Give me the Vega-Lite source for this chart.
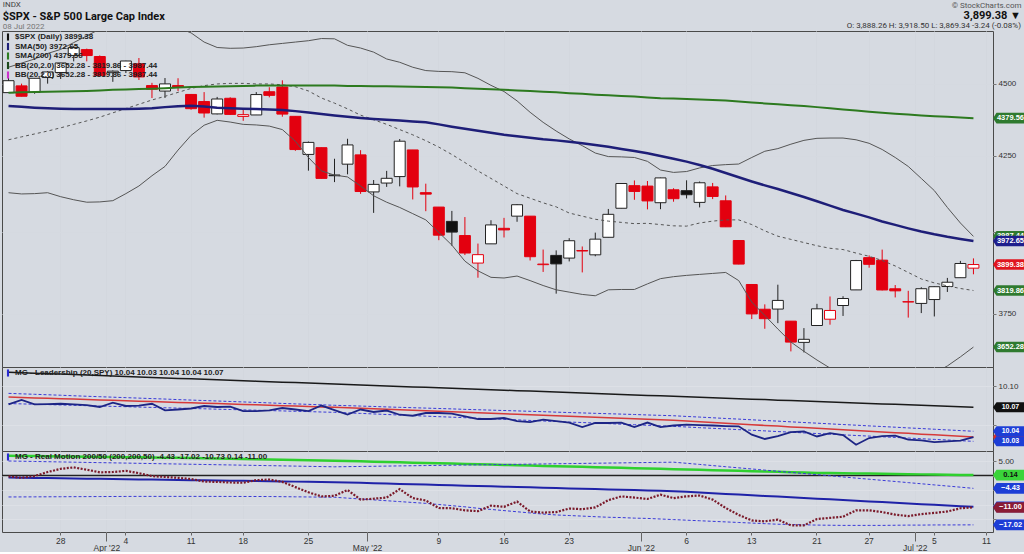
{
"$schema": "https://vega.github.io/schema/vega-lite/v6.json",
"background": "#d6dae1",
"padding": 0,
"datasets": {
"px": [
{"d":"2022-03-22","o":4469.1,"h":4522,"l":4469.1,"c":4511.61,"s50":4422,"s200":4469,"bu":4560,"bm":4305,"bl":4128,"k":10.1177,"lu":10.0906,"lm":10.0859,"ll":10.0775,"ld":10.0765,"g":6.8,"b":-0.7,"r":-0.3,"ru":5,"rl":-7.4},
{"d":"2022-03-23","o":4493.1,"h":4501.07,"l":4455.81,"c":4456.24,"s50":4419,"s200":4470,"bu":4575,"bm":4315,"bl":4124,"k":10.1171,"lu":10.09,"lm":10.0854,"ll":10.0771,"ld":10.0821,"g":6.75,"b":-0.76,"r":-0.8,"ru":4.92,"rl":-7.38},
{"d":"2022-03-24","o":4469.98,"h":4520.58,"l":4465.17,"c":4520.16,"s50":4416,"s200":4471,"bu":4590,"bm":4325,"bl":4125,"k":10.1165,"lu":10.0894,"lm":10.0848,"ll":10.0766,"ld":10.0765,"g":6.69,"b":-0.83,"r":-0.2,"ru":4.84,"rl":-7.36},
{"d":"2022-03-25","o":4522.91,"h":4546.03,"l":4501.07,"c":4543.06,"s50":4414,"s200":4472,"bu":4610,"bm":4335,"bl":4128,"k":10.1159,"lu":10.0888,"lm":10.0843,"ll":10.0762,"ld":10.0769,"g":6.64,"b":-0.89,"r":1.2,"ru":4.76,"rl":-7.34},
{"d":"2022-03-28","o":4541.09,"h":4575.65,"l":4517.69,"c":4575.52,"s50":4412,"s200":4473,"bu":4625,"bm":4346,"bl":4115,"k":10.1153,"lu":10.0882,"lm":10.0838,"ll":10.0757,"ld":10.0773,"g":6.58,"b":-0.96,"r":2.3,"ru":4.68,"rl":-7.32},
{"d":"2022-03-29","o":4602.86,"h":4637.3,"l":4581.32,"c":4631.6,"s50":4411,"s200":4474,"bu":4650,"bm":4358,"bl":4105,"k":10.1147,"lu":10.0875,"lm":10.0833,"ll":10.0753,"ld":10.0765,"g":6.53,"b":-1.02,"r":2.8,"ru":4.6,"rl":-7.3},
{"d":"2022-03-30","o":4624.2,"h":4627.77,"l":4581.32,"c":4602.45,"s50":4411,"s200":4475,"bu":4675,"bm":4370,"bl":4097,"k":10.1141,"lu":10.0869,"lm":10.0827,"ll":10.0748,"ld":10.0756,"g":6.48,"b":-1.08,"r":2.0,"ru":4.52,"rl":-7.28},
{"d":"2022-03-31","o":4599.02,"h":4603.07,"l":4530.41,"c":4530.41,"s50":4411,"s200":4477,"bu":4700,"bm":4383,"bl":4098,"k":10.1135,"lu":10.0863,"lm":10.0822,"ll":10.0744,"ld":10.0731,"g":6.42,"b":-1.15,"r":1.1,"ru":4.44,"rl":-7.26},
{"d":"2022-04-01","o":4540.32,"h":4548.7,"l":4507.57,"c":4545.86,"s50":4411,"s200":4479,"bu":4720,"bm":4398,"bl":4102,"k":10.1129,"lu":10.0857,"lm":10.0817,"ll":10.0739,"ld":10.0786,"g":6.37,"b":-1.21,"r":1.2,"ru":4.36,"rl":-7.24},
{"d":"2022-04-04","o":4547.97,"h":4583.5,"l":4539.21,"c":4582.64,"s50":4411,"s200":4480,"bu":4730,"bm":4413,"bl":4125,"k":10.1122,"lu":10.0851,"lm":10.0811,"ll":10.0735,"ld":10.0744,"g":6.31,"b":-1.28,"r":1.6,"ru":4.28,"rl":-7.22},
{"d":"2022-04-05","o":4572.45,"h":4593.45,"l":4514.17,"c":4525.12,"s50":4412,"s200":4482,"bu":4735,"bm":4428,"bl":4150,"k":10.1116,"lu":10.0845,"lm":10.0806,"ll":10.073,"ld":10.075,"g":6.26,"b":-1.34,"r":0.8,"ru":4.2,"rl":-7.2},
{"d":"2022-04-06","o":4494.17,"h":4503.94,"l":4450.04,"c":4481.15,"s50":4414,"s200":4483,"bu":4735,"bm":4443,"bl":4184,"k":10.111,"lu":10.0839,"lm":10.0801,"ll":10.0726,"ld":10.0773,"g":6.21,"b":-1.4,"r":-0.2,"ru":4.12,"rl":-7.2},
{"d":"2022-04-07","o":4474.65,"h":4521.16,"l":4450.3,"c":4500.21,"s50":4418,"s200":4485,"bu":4725,"bm":4456,"bl":4215,"k":10.1104,"lu":10.0833,"lm":10.0796,"ll":10.0721,"ld":10.0688,"g":6.15,"b":-1.47,"r":-0.5,"ru":4.04,"rl":-7.2},
{"d":"2022-04-08","o":4494.15,"h":4520.41,"l":4474.6,"c":4488.28,"s50":4421,"s200":4487,"bu":4705,"bm":4470,"bl":4270,"k":10.1098,"lu":10.0826,"lm":10.079,"ll":10.0717,"ld":10.0699,"g":6.1,"b":-1.53,"r":-0.8,"ru":3.96,"rl":-7.2},
{"d":"2022-04-11","o":4462.64,"h":4463.72,"l":4408.87,"c":4412.53,"s50":4423,"s200":4489,"bu":4686,"bm":4484,"bl":4320,"k":10.1092,"lu":10.082,"lm":10.0785,"ll":10.0712,"ld":10.0712,"g":6.02,"b":-1.6,"r":-1.2,"ru":3.88,"rl":-7.2},
{"d":"2022-04-12","o":4437.59,"h":4471,"l":4381.34,"c":4397.45,"s50":4420,"s200":4490,"bu":4652,"bm":4494,"bl":4355,"k":10.1086,"lu":10.0814,"lm":10.078,"ll":10.0708,"ld":10.0744,"g":5.93,"b":-1.66,"r":-2.1,"ru":3.8,"rl":-7.2},
{"d":"2022-04-13","o":4394.3,"h":4453.92,"l":4392.7,"c":4446.59,"s50":4416,"s200":4491,"bu":4632,"bm":4500,"bl":4372,"k":10.108,"lu":10.0808,"lm":10.0775,"ll":10.0703,"ld":10.0731,"g":5.85,"b":-1.72,"r":-2.2,"ru":3.72,"rl":-7.21},
{"d":"2022-04-14","o":4449.12,"h":4452.61,"l":4390.58,"c":4392.59,"s50":4414,"s200":4492,"bu":4629,"bm":4502,"bl":4366,"k":10.1074,"lu":10.0802,"lm":10.0769,"ll":10.0699,"ld":10.0737,"g":5.77,"b":-1.79,"r":-2.4,"ru":3.64,"rl":-7.22},
{"d":"2022-04-18","o":4385.63,"h":4410.31,"l":4370.3,"c":4391.69,"s50":4412,"s200":4493,"bu":4630,"bm":4502,"bl":4358,"k":10.1068,"lu":10.0796,"lm":10.0764,"ll":10.0694,"ld":10.0679,"g":5.68,"b":-1.85,"r":-2.5,"ru":3.56,"rl":-7.23},
{"d":"2022-04-19","o":4390.63,"h":4471.03,"l":4390.63,"c":4462.21,"s50":4411,"s200":4494,"bu":4635,"bm":4500,"bl":4356,"k":10.1062,"lu":10.079,"lm":10.0759,"ll":10.069,"ld":10.0679,"g":5.6,"b":-1.92,"r":-1.6,"ru":3.48,"rl":-7.24},
{"d":"2022-04-20","o":4472.26,"h":4488.29,"l":4452.39,"c":4459.45,"s50":4410,"s200":4494,"bu":4642,"bm":4500,"bl":4352,"k":10.1056,"lu":10.0784,"lm":10.0753,"ll":10.0685,"ld":10.0688,"g":5.52,"b":-1.98,"r":-1.4,"ru":3.4,"rl":-7.25},
{"d":"2022-04-21","o":4489.17,"h":4512.94,"l":4384.47,"c":4393.66,"s50":4408,"s200":4494,"bu":4647,"bm":4497,"bl":4340,"k":10.105,"lu":10.0777,"lm":10.0748,"ll":10.0681,"ld":10.0718,"g":5.43,"b":-2.04,"r":-2.2,"ru":3.32,"rl":-7.3},
{"d":"2022-04-22","o":4385.83,"h":4385.83,"l":4267.62,"c":4271.78,"s50":4404,"s200":4494,"bu":4652,"bm":4490,"bl":4300,"k":10.1044,"lu":10.0771,"lm":10.0743,"ll":10.0676,"ld":10.0699,"g":5.35,"b":-2.11,"r":-4.0,"ru":3.24,"rl":-7.35},
{"d":"2022-04-25","o":4255.34,"h":4299.02,"l":4200.82,"c":4296.12,"s50":4399,"s200":4494,"bu":4657,"bm":4475,"bl":4245,"k":10.1038,"lu":10.0765,"lm":10.0738,"ll":10.0672,"ld":10.0679,"g":5.27,"b":-2.17,"r":-5.8,"ru":3.16,"rl":-7.4},
{"d":"2022-04-26","o":4278.14,"h":4278.14,"l":4175.04,"c":4175.2,"s50":4394,"s200":4494,"bu":4665,"bm":4450,"bl":4200,"k":10.1032,"lu":10.0759,"lm":10.0732,"ll":10.0667,"ld":10.075,"g":5.18,"b":-2.24,"r":-7.2,"ru":3.08,"rl":-7.45},
{"d":"2022-04-27","o":4186.52,"h":4240.71,"l":4162.9,"c":4183.96,"s50":4389,"s200":4494,"bu":4664,"bm":4432,"bl":4186,"k":10.1025,"lu":10.0753,"lm":10.0727,"ll":10.0663,"ld":10.0692,"g":5.1,"b":-2.3,"r":-7.0,"ru":3.0,"rl":-7.5},
{"d":"2022-04-28","o":4222.58,"h":4308.45,"l":4188.63,"c":4287.5,"s50":4384,"s200":4493,"bu":4640,"bm":4412,"bl":4180,"k":10.1019,"lu":10.0748,"lm":10.0721,"ll":10.0656,"ld":10.0635,"g":4.99,"b":-2.42,"r":-5.0,"ru":3.06,"rl":-7.8},
{"d":"2022-04-29","o":4253.75,"h":4269.68,"l":4124.28,"c":4131.93,"s50":4380,"s200":4493,"bu":4630,"bm":4390,"bl":4150,"k":10.1013,"lu":10.0743,"lm":10.0714,"ll":10.0649,"ld":10.0699,"g":4.88,"b":-2.54,"r":-8.3,"ru":3.12,"rl":-8.1},
{"d":"2022-05-02","o":4130.61,"h":4169.81,"l":4062.51,"c":4155.38,"s50":4377,"s200":4492,"bu":4615,"bm":4374,"bl":4118,"k":10.1007,"lu":10.0738,"lm":10.0708,"ll":10.0642,"ld":10.0667,"g":4.77,"b":-2.66,"r":-8.0,"ru":3.18,"rl":-8.4},
{"d":"2022-05-03","o":4159.78,"h":4200.1,"l":4147.08,"c":4175.48,"s50":4374,"s200":4492,"bu":4590,"bm":4358,"bl":4097,"k":10.1001,"lu":10.0732,"lm":10.0701,"ll":10.0635,"ld":10.0686,"g":4.65,"b":-2.78,"r":-7.6,"ru":3.25,"rl":-8.7},
{"d":"2022-05-04","o":4181.18,"h":4307.66,"l":4148.91,"c":4300.17,"s50":4371,"s200":4491,"bu":4578,"bm":4340,"bl":4080,"k":10.0995,"lu":10.0727,"lm":10.0695,"ll":10.0628,"ld":10.0632,"g":4.54,"b":-2.9,"r":-4.7,"ru":3.31,"rl":-9.0},
{"d":"2022-05-05","o":4270.43,"h":4270.43,"l":4106.01,"c":4146.87,"s50":4368,"s200":4490,"bu":4560,"bm":4322,"bl":4060,"k":10.0989,"lu":10.0722,"lm":10.0689,"ll":10.0621,"ld":10.0619,"g":4.43,"b":-3.01,"r":-7.8,"ru":3.37,"rl":-9.3},
{"d":"2022-05-06","o":4128.17,"h":4157.69,"l":4067.91,"c":4123.34,"s50":4365,"s200":4489,"bu":4548,"bm":4302,"bl":4040,"k":10.0983,"lu":10.0717,"lm":10.0682,"ll":10.0614,"ld":10.0654,"g":4.32,"b":-3.13,"r":-8.6,"ru":3.43,"rl":-9.6},
{"d":"2022-05-09","o":4081.27,"h":4081.27,"l":3975.48,"c":3991.24,"s50":4358,"s200":4488,"bu":4545,"bm":4280,"bl":4000,"k":10.0977,"lu":10.0712,"lm":10.0676,"ll":10.0607,"ld":10.0654,"g":4.21,"b":-3.25,"r":-11.2,"ru":3.49,"rl":-10.0},
{"d":"2022-05-10","o":4035.18,"h":4068.82,"l":3958.17,"c":4001.05,"s50":4350,"s200":4487,"bu":4544,"bm":4255,"bl":3960,"k":10.0971,"lu":10.0707,"lm":10.0669,"ll":10.0601,"ld":10.0647,"g":4.1,"b":-3.37,"r":-11.3,"ru":3.55,"rl":-10.4},
{"d":"2022-05-11","o":3990.08,"h":4049.09,"l":3928.82,"c":3935.18,"s50":4343,"s200":4485,"bu":4540,"bm":4228,"bl":3910,"k":10.0965,"lu":10.0701,"lm":10.0663,"ll":10.0594,"ld":10.0612,"g":3.98,"b":-3.49,"r":-12.0,"ru":3.62,"rl":-10.8},
{"d":"2022-05-12","o":3903.95,"h":3964.8,"l":3858.87,"c":3930.08,"s50":4336,"s200":4483,"bu":4520,"bm":4200,"bl":3880,"k":10.0959,"lu":10.0696,"lm":10.0657,"ll":10.0587,"ld":10.0577,"g":3.87,"b":-3.61,"r":-12.3,"ru":3.68,"rl":-11.3},
{"d":"2022-05-13","o":3963.9,"h":4038.88,"l":3963.9,"c":4023.89,"s50":4329,"s200":4481,"bu":4495,"bm":4175,"bl":3860,"k":10.0953,"lu":10.0691,"lm":10.065,"ll":10.058,"ld":10.0577,"g":3.76,"b":-3.73,"r":-10.4,"ru":3.74,"rl":-11.7},
{"d":"2022-05-16","o":4013.02,"h":4046.46,"l":3983.99,"c":4008.01,"s50":4322,"s200":4479,"bu":4473,"bm":4150,"bl":3858,"k":10.0947,"lu":10.0686,"lm":10.0644,"ll":10.0573,"ld":10.059,"g":3.65,"b":-3.85,"r":-10.8,"ru":3.8,"rl":-12.1},
{"d":"2022-05-17","o":4052,"h":4090.72,"l":4033.93,"c":4088.85,"s50":4317,"s200":4477,"bu":4440,"bm":4125,"bl":3864,"k":10.0941,"lu":10.0681,"lm":10.0637,"ll":10.0566,"ld":10.0551,"g":3.54,"b":-3.97,"r":-9.0,"ru":3.86,"rl":-12.5},
{"d":"2022-05-18","o":4051.98,"h":4051.98,"l":3911.91,"c":3923.68,"s50":4312,"s200":4475,"bu":4400,"bm":4110,"bl":3850,"k":10.0935,"lu":10.0676,"lm":10.0631,"ll":10.0559,"ld":10.0538,"g":3.43,"b":-4.09,"r":-12.4,"ru":3.92,"rl":-12.9},
{"d":"2022-05-19","o":3899,"h":3945.96,"l":3876.58,"c":3900.79,"s50":4307,"s200":4472,"bu":4365,"bm":4095,"bl":3835,"k":10.0929,"lu":10.0671,"lm":10.0625,"ll":10.0552,"ld":10.057,"g":3.31,"b":-4.2,"r":-12.8,"ru":3.98,"rl":-13.3},
{"d":"2022-05-20","o":3927.76,"h":3943.42,"l":3810.32,"c":3901.36,"s50":4303,"s200":4470,"bu":4335,"bm":4082,"bl":3822,"k":10.0922,"lu":10.0665,"lm":10.0618,"ll":10.0545,"ld":10.0551,"g":3.2,"b":-4.32,"r":-12.6,"ru":4.05,"rl":-13.6},
{"d":"2022-05-23","o":3919.42,"h":3981.88,"l":3909.04,"c":3973.75,"s50":4298,"s200":4467,"bu":4308,"bm":4062,"bl":3815,"k":10.0916,"lu":10.066,"lm":10.0612,"ll":10.0538,"ld":10.0532,"g":3.09,"b":-4.44,"r":-11.4,"ru":4.11,"rl":-13.8},
{"d":"2022-05-24","o":3942.94,"h":3955.68,"l":3875.13,"c":3941.48,"s50":4293,"s200":4465,"bu":4285,"bm":4052,"bl":3808,"k":10.091,"lu":10.0655,"lm":10.0605,"ll":10.0532,"ld":10.0474,"g":2.98,"b":-4.56,"r":-11.6,"ru":4.17,"rl":-14.0},
{"d":"2022-05-25","o":3929.59,"h":3999.33,"l":3925.03,"c":3978.73,"s50":4287,"s200":4462,"bu":4260,"bm":4042,"bl":3804,"k":10.0904,"lu":10.065,"lm":10.0599,"ll":10.0525,"ld":10.0526,"g":2.87,"b":-4.68,"r":-11.0,"ru":4.23,"rl":-14.2},
{"d":"2022-05-26","o":3984.6,"h":4075.14,"l":3984.6,"c":4057.84,"s50":4281,"s200":4460,"bu":4248,"bm":4036,"bl":3822,"k":10.0898,"lu":10.0645,"lm":10.0592,"ll":10.0518,"ld":10.0526,"g":2.76,"b":-4.8,"r":-8.5,"ru":4.29,"rl":-14.4},
{"d":"2022-05-27","o":4077.43,"h":4158.49,"l":4077.43,"c":4158.24,"s50":4274,"s200":4457,"bu":4247,"bm":4032,"bl":3823,"k":10.0892,"lu":10.064,"lm":10.0586,"ll":10.0511,"ld":10.0532,"g":2.65,"b":-4.92,"r":-7.2,"ru":4.35,"rl":-14.5},
{"d":"2022-05-31","o":4151.09,"h":4168.34,"l":4104.88,"c":4132.15,"s50":4267,"s200":4455,"bu":4245,"bm":4028,"bl":3823,"k":10.0886,"lu":10.0635,"lm":10.058,"ll":10.0504,"ld":10.0474,"g":2.53,"b":-5.04,"r":-7.6,"ru":4.42,"rl":-14.7},
{"d":"2022-06-01","o":4149.78,"h":4166.54,"l":4073.85,"c":4101.23,"s50":4259,"s200":4452,"bu":4232,"bm":4029,"bl":3840,"k":10.088,"lu":10.0629,"lm":10.0573,"ll":10.0497,"ld":10.0532,"g":2.42,"b":-5.16,"r":-8.1,"ru":4.48,"rl":-14.8},
{"d":"2022-06-02","o":4095.41,"h":4177.51,"l":4074.37,"c":4176.82,"s50":4250,"s200":4449,"bu":4203,"bm":4025,"bl":3856,"k":10.0874,"lu":10.0624,"lm":10.0567,"ll":10.049,"ld":10.0474,"g":2.31,"b":-5.28,"r":-6.6,"ru":4.54,"rl":-15.0},
{"d":"2022-06-03","o":4137.57,"h":4142.67,"l":4098.67,"c":4108.54,"s50":4241,"s200":4448,"bu":4195,"bm":4021,"bl":3862,"k":10.0868,"lu":10.0619,"lm":10.056,"ll":10.0483,"ld":10.0494,"g":2.2,"b":-5.4,"r":-7.8,"ru":4.6,"rl":-15.2},
{"d":"2022-06-06","o":4134.72,"h":4168.78,"l":4109.18,"c":4121.43,"s50":4231,"s200":4447,"bu":4198,"bm":4020,"bl":3866,"k":10.0862,"lu":10.061,"lm":10.0551,"ll":10.0475,"ld":10.0504,"g":2.08,"b":-5.64,"r":-7.2,"ru":4.21,"rl":-15.4},
{"d":"2022-06-07","o":4096.47,"h":4164.86,"l":4080.19,"c":4160.68,"s50":4220,"s200":4445,"bu":4210,"bm":4030,"bl":3869,"k":10.0856,"lu":10.0602,"lm":10.0541,"ll":10.0466,"ld":10.05,"g":1.96,"b":-5.87,"r":-6.9,"ru":3.82,"rl":-15.6},
{"d":"2022-06-08","o":4147.12,"h":4160.14,"l":4107.2,"c":4115.77,"s50":4207,"s200":4443,"bu":4218,"bm":4036,"bl":3872,"k":10.085,"lu":10.0593,"lm":10.0532,"ll":10.0458,"ld":10.0494,"g":1.85,"b":-6.11,"r":-8.3,"ru":3.42,"rl":-15.8},
{"d":"2022-06-09","o":4101.65,"h":4119.1,"l":4017.17,"c":4017.82,"s50":4193,"s200":4441,"bu":4221,"bm":4040,"bl":3875,"k":10.0844,"lu":10.0584,"lm":10.0523,"ll":10.045,"ld":10.0487,"g":1.73,"b":-6.34,"r":-11.2,"ru":3.03,"rl":-16.0},
{"d":"2022-06-10","o":3974.39,"h":3974.39,"l":3900.16,"c":3900.86,"s50":4179,"s200":4438,"bu":4223,"bm":4040,"bl":3850,"k":10.0838,"lu":10.0576,"lm":10.0513,"ll":10.0441,"ld":10.0483,"g":1.61,"b":-6.58,"r":-13.6,"ru":2.64,"rl":-16.2},
{"d":"2022-06-13","o":3838.15,"h":3838.15,"l":3734.3,"c":3749.63,"s50":4165,"s200":4434,"bu":4245,"bm":4025,"bl":3785,"k":10.0832,"lu":10.0567,"lm":10.0504,"ll":10.0433,"ld":10.0376,"g":1.49,"b":-6.81,"r":-15.5,"ru":2.25,"rl":-16.4},
{"d":"2022-06-14","o":3763.52,"h":3778.18,"l":3705.68,"c":3735.48,"s50":4152,"s200":4431,"bu":4266,"bm":4005,"bl":3745,"k":10.0826,"lu":10.0558,"lm":10.0495,"ll":10.0425,"ld":10.0321,"g":1.37,"b":-7.05,"r":-15.8,"ru":1.86,"rl":-16.6},
{"d":"2022-06-15","o":3764.05,"h":3837.56,"l":3722.3,"c":3789.99,"s50":4140,"s200":4428,"bu":4275,"bm":3988,"bl":3705,"k":10.0819,"lu":10.055,"lm":10.0486,"ll":10.0416,"ld":10.0359,"g":1.26,"b":-7.28,"r":-15.2,"ru":1.46,"rl":-16.8},
{"d":"2022-06-16","o":3728.18,"h":3728.18,"l":3639.77,"c":3666.77,"s50":4127,"s200":4425,"bu":4290,"bm":3978,"bl":3667,"k":10.0813,"lu":10.0541,"lm":10.0476,"ll":10.0408,"ld":10.041,"g":1.14,"b":-7.52,"r":-17.2,"ru":1.07,"rl":-16.9},
{"d":"2022-06-17","o":3665.9,"h":3707.71,"l":3636.87,"c":3674.84,"s50":4114,"s200":4422,"bu":4303,"bm":3968,"bl":3640,"k":10.0807,"lu":10.0532,"lm":10.0467,"ll":10.0399,"ld":10.0417,"g":1.02,"b":-7.75,"r":-17.2,"ru":0.68,"rl":-17.0},
{"d":"2022-06-21","o":3715.31,"h":3779.65,"l":3715.31,"c":3764.79,"s50":4100,"s200":4418,"bu":4310,"bm":3958,"bl":3615,"k":10.0801,"lu":10.0524,"lm":10.0458,"ll":10.0391,"ld":10.0353,"g":0.9,"b":-7.99,"r":-15.0,"ru":0.29,"rl":-17.1},
{"d":"2022-06-22","o":3733.89,"h":3801.79,"l":3717.69,"c":3759.89,"s50":4086,"s200":4414,"bu":4311,"bm":3950,"bl":3592,"k":10.0795,"lu":10.0515,"lm":10.0448,"ll":10.0383,"ld":10.0397,"g":0.84,"b":-8.22,"r":-14.6,"ru":-0.1,"rl":-17.15},
{"d":"2022-06-23","o":3774.71,"h":3802.58,"l":3743.52,"c":3795.73,"s50":4072,"s200":4410,"bu":4311,"bm":3946,"bl":3570,"k":10.0789,"lu":10.0506,"lm":10.0439,"ll":10.0374,"ld":10.0372,"g":0.77,"b":-8.46,"r":-14.2,"ru":-0.5,"rl":-17.2},
{"d":"2022-06-24","o":3821.75,"h":3913.65,"l":3821.75,"c":3911.74,"s50":4060,"s200":4406,"bu":4305,"bm":3935,"bl":3555,"k":10.0783,"lu":10.0498,"lm":10.043,"ll":10.0366,"ld":10.0247,"g":0.71,"b":-8.69,"r":-12.0,"ru":-0.89,"rl":-17.2},
{"d":"2022-06-27","o":3920.76,"h":3927.72,"l":3889.66,"c":3900.11,"s50":4048,"s200":4402,"bu":4293,"bm":3925,"bl":3545,"k":10.0777,"lu":10.0489,"lm":10.0421,"ll":10.0358,"ld":10.0333,"g":0.65,"b":-8.93,"r":-12.0,"ru":-1.28,"rl":-17.2},
{"d":"2022-06-28","o":3913,"h":3945.86,"l":3820.14,"c":3821.55,"s50":4035,"s200":4398,"bu":4272,"bm":3912,"bl":3540,"k":10.0771,"lu":10.0481,"lm":10.0411,"ll":10.0349,"ld":10.0359,"g":0.58,"b":-9.16,"r":-12.6,"ru":-1.67,"rl":-17.2},
{"d":"2022-06-29","o":3825.09,"h":3836.5,"l":3799.02,"c":3818.83,"s50":4024,"s200":4395,"bu":4245,"bm":3895,"bl":3540,"k":10.0765,"lu":10.0472,"lm":10.0402,"ll":10.0341,"ld":10.0365,"g":0.52,"b":-9.4,"r":-13.5,"ru":-2.06,"rl":-17.15},
{"d":"2022-06-30","o":3785.99,"h":3818.99,"l":3738.67,"c":3785.38,"s50":4013,"s200":4392,"bu":4215,"bm":3875,"bl":3545,"k":10.0759,"lu":10.0463,"lm":10.0393,"ll":10.0333,"ld":10.0312,"g":0.46,"b":-9.63,"r":-14.0,"ru":-2.46,"rl":-17.1},
{"d":"2022-07-01","o":3781,"h":3829.82,"l":3752.1,"c":3825.33,"s50":4003,"s200":4389,"bu":4175,"bm":3855,"bl":3560,"k":10.0753,"lu":10.0455,"lm":10.0383,"ll":10.0324,"ld":10.0304,"g":0.39,"b":-9.87,"r":-13.3,"ru":-2.85,"rl":-17.1},
{"d":"2022-07-05","o":3792.61,"h":3832.19,"l":3742.06,"c":3831.39,"s50":3994,"s200":4386,"bu":4135,"bm":3843,"bl":3578,"k":10.0747,"lu":10.0446,"lm":10.0374,"ll":10.0316,"ld":10.0282,"g":0.33,"b":-10.1,"r":-12.9,"ru":-3.24,"rl":-17.05},
{"d":"2022-07-06","o":3831.98,"h":3858.23,"l":3815.51,"c":3845.08,"s50":3986,"s200":4384,"bu":4080,"bm":3834,"bl":3598,"k":10.0741,"lu":10.0437,"lm":10.0365,"ll":10.0308,"ld":10.0291,"g":0.27,"b":-10.34,"r":-12.4,"ru":-3.63,"rl":-17.05},
{"d":"2022-07-07","o":3858.85,"h":3910.63,"l":3858.85,"c":3902.62,"s50":3979,"s200":4382,"bu":4030,"bm":3826,"bl":3624,"k":10.0735,"lu":10.0429,"lm":10.0355,"ll":10.0299,"ld":10.0299,"g":0.2,"b":-10.57,"r":-11.3,"ru":-4.02,"rl":-17.03},
{"d":"2022-07-08","o":3888.26,"h":3918.5,"l":3869.34,"c":3899.38,"s50":3972.65,"s200":4379.56,"bu":3987.44,"bm":3819.86,"bl":3652.28,"k":10.0729,"lu":10.042,"lm":10.0346,"ll":10.0291,"ld":10.0346,"g":0.14,"b":-10.81,"r":-11.0,"ru":-4.43,"rl":-17.02}
],
"leg1": [
{"e":"$SPX (Daily) 3899.38"},
{"e":"SMA(50) 3972.65"},
{"e":"SMA(200) 4379.56"},
{"e":"BB(20,2.0) 3652.28 - 3819.86 - 3987.44"},
{"e":"BB(20,2.0) 3652.28 - 3819.86 - 3987.44 "}
],
"leg2": [{"e":"MG - Leadership (20,SPY) 10.04 10.03 10.04 10.04 10.07"}],
"leg3": [{"e":"MG - Real Motion 200/50 (200,200,50) -4.43 -17.02 -10.73 0.14 -11.00"}],
"tag1": [
{"s":"BBU","v":3987.44},
{"s":"SMA200","v":4379.56},
{"s":"BBL","v":3652.28},
{"s":"BBM","v":3819.86},
{"s":"SMA50","v":3972.65},
{"s":"Close","v":3899.38}
],
"tag2": [
{"s":"LM","v":10.0346},
{"s":"LK","v":10.0729},
{"s":"LU","v":10.042},
{"s":"LL","v":10.0291}
],
"tag3": [
{"s":"RB","v":-10.81},
{"s":"RG","v":0.14},
{"s":"RU","v":-4.43},
{"s":"RR","v":-11.0},
{"s":"RL","v":-17.02}
]
},
"title": {"text": "© StockCharts.com", "anchor": "end", "font": "Roboto", "fontSize": 8, "fontWeight": "normal", "color": "#555555", "offset": -9, "dx": -5},
"vconcat": [
{
"title": {"text": "INDX", "anchor": "start", "font": "Roboto", "fontSize": 8, "fontWeight": "normal", "color": "#444444", "offset": 1, "dx": 2},
"vconcat": [
{
"title": {"text": "$SPX - S&P 500 Large Cap Index", "subtitle": "08 Jul 2022", "anchor": "start", "font": "Roboto", "fontSize": 11, "fontWeight": "bold", "color": "#111111", "subtitleFont": "Roboto", "subtitleFontSize": 8, "subtitleColor": "#777777", "subtitlePadding": 1, "offset": -21, "dx": 2},
"spacing": 0,
"bounds": "flush",
"resolve": {"scale": {"color": "independent"}},
"vconcat": [
{
"width": 991, "height": 336,
"title": {"text": "3,899.38 ▼", "subtitle": "O: 3,888.26    H: 3,918.50    L: 3,869.34    -3.24 (-0.08%)", "anchor": "end", "font": "Roboto", "fontSize": 11, "fontWeight": "bold", "color": "#111111", "subtitleFont": "Roboto", "subtitleFontSize": 8, "subtitleColor": "#333333", "subtitlePadding": 1, "offset": 1, "dx": -5},
"data": {"name": "px"},
"layer": [
{"transform": [{"window": [{"op": "lag", "field": "c", "param": 1, "as": "pc"}], "sort": [{"field": "d"}]}],
 "mark": {"type": "rule", "strokeWidth": 1},
 "encoding": {
  "x": {"field": "d", "type": "ordinal", "scale": {"type": "band", "domain": {"unionWith": ["2022-07-11"]}, "paddingInner": 0, "paddingOuter": 0},
        "axis": {"orient": "bottom", "values": ["2022-03-28","2022-04-04","2022-04-11","2022-04-18","2022-04-25","2022-05-09","2022-05-16","2022-05-23","2022-06-06","2022-06-13","2022-06-21","2022-06-27","2022-07-05","2022-07-11"], "labels": false, "ticks": false, "domain": false, "grid": true, "gridColor": "#d3d7de", "title": null, "minExtent": 0, "maxExtent": 0}},
  "y": {"field": "l", "type": "quantitative", "scale": {"type": "log", "domain": [3595, 4693], "nice": false, "zero": false},
        "axis": {"orient": "right", "values": [3750, 4000, 4250, 4500], "format": "d", "labelExpr": "datum.value == 4000 ? '' : datum.label", "title": null, "grid": true, "gridColor": "#d5d9e0", "domain": false, "tickSize": 3, "tickColor": "#777777", "labelPadding": 2, "labelFont": "Liberation Sans", "labelFontSize": 8, "labelColor": "#333333", "minExtent": 33, "maxExtent": 33}},
  "y2": {"field": "h"},
  "color": {"condition": {"test": "datum.c < datum.pc", "value": "#e3000f"}, "value": "#222222"}
 }},
{"transform": [{"window": [{"op": "lag", "field": "c", "param": 1, "as": "pc"}], "sort": [{"field": "d"}]}],
 "mark": {"type": "bar", "width": {"band": 0.84}, "strokeWidth": 1},
 "encoding": {
  "x": {"field": "d", "type": "ordinal", "scale": {"type": "band", "domain": {"unionWith": ["2022-07-11"]}, "paddingInner": 0, "paddingOuter": 0},
        "axis": {"orient": "bottom", "values": ["2022-04-01","2022-05-02","2022-06-01","2022-07-01"], "tickOffset": -6.52, "labels": false, "ticks": false, "domain": false, "grid": true, "gridColor": "#d3d7de", "title": null, "minExtent": 0, "maxExtent": 0}},
  "y": {"field": "o", "type": "quantitative", "scale": {"type": "log", "domain": [3595, 4693], "nice": false, "zero": false}, "axis": null},
  "y2": {"field": "c"},
  "fill": {"condition": [{"test": "datum.c >= datum.o", "value": "#ffffff"}, {"test": "datum.c < datum.pc", "value": "#e3000f"}], "value": "#111111"},
  "stroke": {"condition": {"test": "datum.c < datum.pc", "value": "#e3000f"}, "value": "#222222"}
 }},
{"mark": {"type": "line", "color": "#555555", "strokeWidth": 1, "clip": true},
 "encoding": {"x": {"field": "d", "type": "ordinal", "scale": {"type": "band", "domain": {"unionWith": ["2022-07-11"]}, "paddingInner": 0, "paddingOuter": 0}, "axis": null},
  "y": {"field": "bu", "type": "quantitative", "scale": {"type": "log", "domain": [3595, 4693], "nice": false, "zero": false}, "axis": null}}},
{"mark": {"type": "line", "color": "#555555", "strokeWidth": 1, "clip": true},
 "encoding": {"x": {"field": "d", "type": "ordinal", "scale": {"type": "band", "domain": {"unionWith": ["2022-07-11"]}, "paddingInner": 0, "paddingOuter": 0}, "axis": null},
  "y": {"field": "bl", "type": "quantitative", "scale": {"type": "log", "domain": [3595, 4693], "nice": false, "zero": false}, "axis": null}}},
{"mark": {"type": "line", "color": "#555555", "strokeWidth": 1, "strokeDash": [3, 3], "clip": true},
 "encoding": {"x": {"field": "d", "type": "ordinal", "scale": {"type": "band", "domain": {"unionWith": ["2022-07-11"]}, "paddingInner": 0, "paddingOuter": 0}, "axis": null},
  "y": {"field": "bm", "type": "quantitative", "scale": {"type": "log", "domain": [3595, 4693], "nice": false, "zero": false}, "axis": null}}},
{"mark": {"type": "line", "color": "#2d7a1f", "strokeWidth": 2, "clip": true},
 "encoding": {"x": {"field": "d", "type": "ordinal", "scale": {"type": "band", "domain": {"unionWith": ["2022-07-11"]}, "paddingInner": 0, "paddingOuter": 0}, "axis": null},
  "y": {"field": "s200", "type": "quantitative", "scale": {"type": "log", "domain": [3595, 4693], "nice": false, "zero": false}, "axis": null}}},
{"mark": {"type": "line", "color": "#1e1e78", "strokeWidth": 2.5, "clip": true},
 "encoding": {"x": {"field": "d", "type": "ordinal", "scale": {"type": "band", "domain": {"unionWith": ["2022-07-11"]}, "paddingInner": 0, "paddingOuter": 0}, "axis": null},
  "y": {"field": "s50", "type": "quantitative", "scale": {"type": "log", "domain": [3595, 4693], "nice": false, "zero": false}, "axis": null}}},
{"data": {"name": "leg1"},
 "mark": {"type": "point", "filled": true, "opacity": 0},
 "encoding": {"color": {"field": "e", "type": "nominal",
   "scale": {"domain": ["$SPX (Daily) 3899.38", "SMA(50) 3972.65", "SMA(200) 4379.56", "BB(20,2.0) 3652.28 - 3819.86 - 3987.44", "BB(20,2.0) 3652.28 - 3819.86 - 3987.44 "], "range": ["#111111", "#1e1e78", "#2d7d1f", "#1d4a1d", "#cc33cc"]},
   "legend": {"title": null, "orient": "top-left", "offset": 2, "padding": 0, "symbolType": "M-0.3,-1H0.3V1H-0.3Z", "symbolSize": 50, "symbolOpacity": 1, "symbolStrokeWidth": 0, "labelFont": "Liberation Sans", "labelFontSize": 8, "labelFontWeight": "bold", "labelColor": "#222222", "labelLimit": 500, "rowPadding": 1.5, "labelOffset": 3}}}},
{"data": {"name": "tag1"},
 "transform": [{"filter": "datum.s == 'BBU'"}],
 "mark": {"type": "point", "shape": "M-1,0L-0.78,-0.33H1V0.33H-0.78Z", "size": 1024, "filled": true, "opacity": 1, "strokeWidth": 0, "xOffset": 22.5},
 "encoding": {"x": {"datum": "2022-07-11", "type": "ordinal", "scale": {"type": "band", "domain": {"unionWith": ["2022-07-11"]}, "paddingInner": 0, "paddingOuter": 0}, "axis": null},
  "y": {"field": "v", "type": "quantitative", "scale": {"type": "log", "domain": [3595, 4693], "nice": false, "zero": false}, "axis": null},
  "fill": {"field": "s", "type": "nominal", "scale": {"domain": ["BBU","SMA200","BBL","BBM","SMA50","Close","LM","LK","LU","LL","RB","RG","RU","RR","RL"], "range": ["#2f7a2f","#2f7a2f","#2f7a2f","#2f7a2f","#1e1e8c","#e0141e","#d03030","#111111","#1d3ed6","#1d3ed6","#1d3ed6","#3ad43a","#1d3ed6","#8a1c35","#1d3ed6"]}, "legend": null}}},
{"data": {"name": "tag1"},
 "transform": [{"filter": "datum.s == 'BBU'"}],
 "mark": {"type": "text", "font": "Liberation Sans", "fontSize": 7.5, "fontWeight": "bold", "xOffset": 24, "align": "center", "baseline": "middle"},
 "encoding": {"x": {"datum": "2022-07-11", "type": "ordinal", "scale": {"type": "band", "domain": {"unionWith": ["2022-07-11"]}, "paddingInner": 0, "paddingOuter": 0}, "axis": null},
  "y": {"field": "v", "type": "quantitative", "scale": {"type": "log", "domain": [3595, 4693], "nice": false, "zero": false}, "axis": null},
  "text": {"field": "v", "type": "quantitative", "format": ".2f"},
  "color": {"value": "#ffffff"}}},
{"data": {"name": "tag1"},
 "transform": [{"filter": "datum.s != 'BBU'"}],
 "mark": {"type": "point", "shape": "M-1,0L-0.78,-0.33H1V0.33H-0.78Z", "size": 1024, "filled": true, "opacity": 1, "strokeWidth": 0, "xOffset": 22.5},
 "encoding": {"x": {"datum": "2022-07-11", "type": "ordinal", "scale": {"type": "band", "domain": {"unionWith": ["2022-07-11"]}, "paddingInner": 0, "paddingOuter": 0}, "axis": null},
  "y": {"field": "v", "type": "quantitative", "scale": {"type": "log", "domain": [3595, 4693], "nice": false, "zero": false}, "axis": null},
  "fill": {"field": "s", "type": "nominal", "scale": {"domain": ["BBU","SMA200","BBL","BBM","SMA50","Close","LM","LK","LU","LL","RB","RG","RU","RR","RL"], "range": ["#2f7a2f","#2f7a2f","#2f7a2f","#2f7a2f","#1e1e8c","#e0141e","#d03030","#111111","#1d3ed6","#1d3ed6","#1d3ed6","#3ad43a","#1d3ed6","#8a1c35","#1d3ed6"]}, "legend": null}}},
{"data": {"name": "tag1"},
 "transform": [{"filter": "datum.s != 'BBU'"}],
 "mark": {"type": "text", "font": "Liberation Sans", "fontSize": 7.5, "fontWeight": "bold", "xOffset": 24, "align": "center", "baseline": "middle"},
 "encoding": {"x": {"datum": "2022-07-11", "type": "ordinal", "scale": {"type": "band", "domain": {"unionWith": ["2022-07-11"]}, "paddingInner": 0, "paddingOuter": 0}, "axis": null},
  "y": {"field": "v", "type": "quantitative", "scale": {"type": "log", "domain": [3595, 4693], "nice": false, "zero": false}, "axis": null},
  "text": {"field": "v", "type": "quantitative", "format": ".2f"},
  "color": {"value": "#ffffff"}}}
],
"resolve": {"axis": {"x": "independent", "y": "independent"}}
},
{
"width": 991, "height": 84,
"data": {"name": "px"},
"layer": [
{"mark": {"type": "line", "color": "#1a1a1a", "strokeWidth": 1.5, "clip": true},
 "encoding": {
  "x": {"field": "d", "type": "ordinal", "scale": {"type": "band", "domain": {"unionWith": ["2022-07-11"]}, "paddingInner": 0, "paddingOuter": 0},
        "axis": {"orient": "bottom", "values": ["2022-03-28","2022-04-04","2022-04-11","2022-04-18","2022-04-25","2022-05-09","2022-05-16","2022-05-23","2022-06-06","2022-06-13","2022-06-21","2022-06-27","2022-07-05","2022-07-11"], "labels": false, "ticks": false, "domain": false, "grid": true, "gridColor": "#d3d7de", "title": null, "minExtent": 0, "maxExtent": 0}},
  "y": {"field": "k", "type": "quantitative", "scale": {"domain": [10.0167, 10.1244], "nice": false, "zero": false},
        "axis": {"orient": "right", "values": [10.05, 10.1], "format": ".2f", "labelExpr": "datum.value < 10.07 ? '' : datum.label", "title": null, "grid": true, "gridColor": "#dde0e6", "domain": false, "tickSize": 3, "tickColor": "#777777", "labelPadding": 2, "labelFont": "Liberation Sans", "labelFontSize": 8, "labelColor": "#333333", "minExtent": 33, "maxExtent": 33}}
 }},
{"mark": {"type": "line", "color": "#3a3ad8", "strokeWidth": 1, "strokeDash": [3, 2], "clip": true},
 "encoding": {
  "x": {"field": "d", "type": "ordinal", "scale": {"type": "band", "domain": {"unionWith": ["2022-07-11"]}, "paddingInner": 0, "paddingOuter": 0},
        "axis": {"orient": "bottom", "values": ["2022-04-01","2022-05-02","2022-06-01","2022-07-01"], "tickOffset": -6.52, "labels": false, "ticks": false, "domain": false, "grid": true, "gridColor": "#d3d7de", "title": null, "minExtent": 0, "maxExtent": 0}},
  "y": {"field": "lu", "type": "quantitative", "scale": {"domain": [10.0167, 10.1244], "nice": false, "zero": false}, "axis": null}}},
{"mark": {"type": "line", "color": "#3a3ad8", "strokeWidth": 1, "strokeDash": [3, 2], "clip": true},
 "encoding": {"x": {"field": "d", "type": "ordinal", "scale": {"type": "band", "domain": {"unionWith": ["2022-07-11"]}, "paddingInner": 0, "paddingOuter": 0}, "axis": null},
  "y": {"field": "ll", "type": "quantitative", "scale": {"domain": [10.0167, 10.1244], "nice": false, "zero": false}, "axis": null}}},
{"mark": {"type": "line", "color": "#d63a3a", "strokeWidth": 1.5, "clip": true},
 "encoding": {"x": {"field": "d", "type": "ordinal", "scale": {"type": "band", "domain": {"unionWith": ["2022-07-11"]}, "paddingInner": 0, "paddingOuter": 0}, "axis": null},
  "y": {"field": "lm", "type": "quantitative", "scale": {"domain": [10.0167, 10.1244], "nice": false, "zero": false}, "axis": null}}},
{"mark": {"type": "line", "color": "#1d2585", "strokeWidth": 1.8, "clip": true},
 "encoding": {"x": {"field": "d", "type": "ordinal", "scale": {"type": "band", "domain": {"unionWith": ["2022-07-11"]}, "paddingInner": 0, "paddingOuter": 0}, "axis": null},
  "y": {"field": "ld", "type": "quantitative", "scale": {"domain": [10.0167, 10.1244], "nice": false, "zero": false}, "axis": null}}},
{"data": {"name": "leg2"},
 "mark": {"type": "point", "filled": true, "opacity": 0},
 "encoding": {"color": {"field": "e", "type": "nominal",
   "scale": {"domain": ["MG - Leadership (20,SPY) 10.04 10.03 10.04 10.04 10.07"], "range": ["#2a2ad0"]},
   "legend": {"title": null, "orient": "top-left", "offset": 2, "padding": 0, "symbolType": "M-0.3,-1H0.3V1H-0.3Z", "symbolSize": 50, "symbolOpacity": 1, "symbolStrokeWidth": 0, "labelFont": "Liberation Sans", "labelFontSize": 8, "labelFontWeight": "bold", "labelColor": "#222222", "labelLimit": 500, "labelOffset": 3}}}},
{"data": {"name": "tag2"},
 "transform": [{"filter": "datum.s == 'LM'"}],
 "mark": {"type": "point", "shape": "M-1,0L-0.78,-0.33H1V0.33H-0.78Z", "size": 1024, "filled": true, "opacity": 1, "strokeWidth": 0, "xOffset": 22.5},
 "encoding": {"x": {"datum": "2022-07-11", "type": "ordinal", "scale": {"type": "band", "domain": {"unionWith": ["2022-07-11"]}, "paddingInner": 0, "paddingOuter": 0}, "axis": null},
  "y": {"field": "v", "type": "quantitative", "scale": {"domain": [10.0167, 10.1244], "nice": false, "zero": false}, "axis": null},
  "fill": {"field": "s", "type": "nominal", "scale": {"domain": ["BBU","SMA200","BBL","BBM","SMA50","Close","LM","LK","LU","LL","RB","RG","RU","RR","RL"], "range": ["#2f7a2f","#2f7a2f","#2f7a2f","#2f7a2f","#1e1e8c","#e0141e","#d03030","#111111","#1d3ed6","#1d3ed6","#1d3ed6","#3ad43a","#1d3ed6","#8a1c35","#1d3ed6"]}, "legend": null}}},
{"data": {"name": "tag2"},
 "transform": [{"filter": "datum.s != 'LM'"}],
 "mark": {"type": "point", "shape": "M-1,0L-0.78,-0.31H1V0.31H-0.78Z", "size": 1024, "filled": true, "opacity": 1, "strokeWidth": 0, "xOffset": 22.5},
 "encoding": {"x": {"datum": "2022-07-11", "type": "ordinal", "scale": {"type": "band", "domain": {"unionWith": ["2022-07-11"]}, "paddingInner": 0, "paddingOuter": 0}, "axis": null},
  "y": {"field": "v", "type": "quantitative", "scale": {"domain": [10.0167, 10.1244], "nice": false, "zero": false}, "axis": null},
  "fill": {"field": "s", "type": "nominal", "scale": {"domain": ["BBU","SMA200","BBL","BBM","SMA50","Close","LM","LK","LU","LL","RB","RG","RU","RR","RL"], "range": ["#2f7a2f","#2f7a2f","#2f7a2f","#2f7a2f","#1e1e8c","#e0141e","#d03030","#111111","#1d3ed6","#1d3ed6","#1d3ed6","#3ad43a","#1d3ed6","#8a1c35","#1d3ed6"]}, "legend": null}}},
{"data": {"name": "tag2"},
 "transform": [{"filter": "datum.s != 'LM'"}],
 "mark": {"type": "text", "font": "Liberation Sans", "fontSize": 7, "fontWeight": "bold", "xOffset": 24, "align": "center", "baseline": "middle"},
 "encoding": {"x": {"datum": "2022-07-11", "type": "ordinal", "scale": {"type": "band", "domain": {"unionWith": ["2022-07-11"]}, "paddingInner": 0, "paddingOuter": 0}, "axis": null},
  "y": {"field": "v", "type": "quantitative", "scale": {"domain": [10.0167, 10.1244], "nice": false, "zero": false}, "axis": null},
  "text": {"field": "v", "type": "quantitative", "format": ".2f"},
  "color": {"value": "#ffffff"}}}
],
"resolve": {"axis": {"x": "independent", "y": "independent"}}
},
{
"width": 991, "height": 81,
"data": {"name": "px"},
"layer": [
{"data": {"values": [{}]},
 "mark": {"type": "rule", "color": "#222222", "strokeWidth": 1.5},
 "encoding": {"y": {"datum": 0, "type": "quantitative", "scale": {"domain": [-19.48, 8.45], "nice": false, "zero": false}, "axis": null}}},
{"mark": {"type": "line", "color": "#2fd02f", "strokeWidth": 2.5, "clip": true},
 "encoding": {
  "x": {"field": "d", "type": "ordinal", "scale": {"type": "band", "domain": {"unionWith": ["2022-07-11"]}, "paddingInner": 0, "paddingOuter": 0},
        "axis": {"orient": "bottom", "values": ["2022-03-28","2022-04-04","2022-04-11","2022-04-18","2022-04-25","2022-05-09","2022-05-16","2022-05-23","2022-06-06","2022-06-13","2022-06-21","2022-06-27","2022-07-05","2022-07-11"], "labelExpr": "'' + toNumber(slice(datum.value, 8))", "labelAngle": 0, "labelOverlap": false, "labelFont": "Liberation Sans", "labelFontSize": 8.5, "labelColor": "#333333", "labelPadding": 1, "ticks": true, "tickSize": 3, "tickColor": "#666666", "domain": false, "grid": true, "gridColor": "#d3d7de", "title": null}},
  "y": {"field": "g", "type": "quantitative", "scale": {"domain": [-19.48, 8.45], "nice": false, "zero": false},
        "axis": {"orient": "right", "values": [-15, -10, -5, 0, 5], "format": ".2f", "labelExpr": "datum.value == 5 ? datum.label : ''", "title": null, "grid": true, "gridColor": "#dde0e6", "domain": false, "tickSize": 3, "tickColor": "#777777", "labelPadding": 2, "labelFont": "Liberation Sans", "labelFontSize": 8, "labelColor": "#333333", "minExtent": 33, "maxExtent": 33}}
 }},
{"mark": {"type": "line", "color": "#1f22a8", "strokeWidth": 2, "clip": true},
 "encoding": {
  "x": {"field": "d", "type": "ordinal", "scale": {"type": "band", "domain": {"unionWith": ["2022-07-11"]}, "paddingInner": 0, "paddingOuter": 0},
        "axis": {"orient": "bottom", "values": ["2022-04-01","2022-05-02","2022-06-01","2022-07-01"], "tickOffset": -6.52, "labelExpr": "datum.value == '2022-04-01' ? \"Apr '22\" : datum.value == '2022-05-02' ? \"May '22\" : datum.value == '2022-06-01' ? \"Jun '22\" : \"Jul '22\"", "labelAngle": 0, "labelOverlap": false, "labelFont": "Liberation Sans", "labelFontSize": 8.5, "labelColor": "#333333", "labelPadding": 2, "ticks": true, "tickSize": 9, "tickColor": "#666666", "domain": false, "grid": true, "gridColor": "#d3d7de", "title": null}},
  "y": {"field": "b", "type": "quantitative", "scale": {"domain": [-19.48, 8.45], "nice": false, "zero": false}, "axis": null}}},
{"mark": {"type": "line", "color": "#3a3ad8", "strokeWidth": 1, "strokeDash": [3, 2], "clip": true},
 "encoding": {"x": {"field": "d", "type": "ordinal", "scale": {"type": "band", "domain": {"unionWith": ["2022-07-11"]}, "paddingInner": 0, "paddingOuter": 0}, "axis": null},
  "y": {"field": "ru", "type": "quantitative", "scale": {"domain": [-19.48, 8.45], "nice": false, "zero": false}, "axis": null}}},
{"mark": {"type": "line", "color": "#3a3ad8", "strokeWidth": 1, "strokeDash": [3, 2], "clip": true},
 "encoding": {"x": {"field": "d", "type": "ordinal", "scale": {"type": "band", "domain": {"unionWith": ["2022-07-11"]}, "paddingInner": 0, "paddingOuter": 0}, "axis": null},
  "y": {"field": "rl", "type": "quantitative", "scale": {"domain": [-19.48, 8.45], "nice": false, "zero": false}, "axis": null}}},
{"mark": {"type": "line", "color": "#7a1a2a", "strokeWidth": 2.2, "strokeDash": [2, 1.5], "clip": true},
 "encoding": {"x": {"field": "d", "type": "ordinal", "scale": {"type": "band", "domain": {"unionWith": ["2022-07-11"]}, "paddingInner": 0, "paddingOuter": 0}, "axis": null},
  "y": {"field": "r", "type": "quantitative", "scale": {"domain": [-19.48, 8.45], "nice": false, "zero": false}, "axis": null}}},
{"data": {"name": "leg3"},
 "mark": {"type": "point", "filled": true, "opacity": 0},
 "encoding": {"color": {"field": "e", "type": "nominal",
   "scale": {"domain": ["MG - Real Motion 200/50 (200,200,50) -4.43 -17.02 -10.73 0.14 -11.00"], "range": ["#2a2ad0"]},
   "legend": {"title": null, "orient": "top-left", "offset": 2, "padding": 0, "symbolType": "M-0.3,-1H0.3V1H-0.3Z", "symbolSize": 50, "symbolOpacity": 1, "symbolStrokeWidth": 0, "labelFont": "Liberation Sans", "labelFontSize": 8, "labelFontWeight": "bold", "labelColor": "#222222", "labelLimit": 500, "labelOffset": 3}}}},
{"data": {"name": "tag3"},
 "transform": [{"filter": "datum.s == 'RB'"}],
 "mark": {"type": "point", "shape": "M-1,0L-0.78,-0.33H1V0.33H-0.78Z", "size": 1024, "filled": true, "opacity": 1, "strokeWidth": 0, "xOffset": 22.5},
 "encoding": {"x": {"datum": "2022-07-11", "type": "ordinal", "scale": {"type": "band", "domain": {"unionWith": ["2022-07-11"]}, "paddingInner": 0, "paddingOuter": 0}, "axis": null},
  "y": {"field": "v", "type": "quantitative", "scale": {"domain": [-19.48, 8.45], "nice": false, "zero": false}, "axis": null},
  "fill": {"field": "s", "type": "nominal", "scale": {"domain": ["BBU","SMA200","BBL","BBM","SMA50","Close","LM","LK","LU","LL","RB","RG","RU","RR","RL"], "range": ["#2f7a2f","#2f7a2f","#2f7a2f","#2f7a2f","#1e1e8c","#e0141e","#d03030","#111111","#1d3ed6","#1d3ed6","#1d3ed6","#3ad43a","#1d3ed6","#8a1c35","#1d3ed6"]}, "legend": null}}},
{"data": {"name": "tag3"},
 "transform": [{"filter": "datum.s != 'RB'"}],
 "mark": {"type": "point", "shape": "M-1,0L-0.78,-0.33H1V0.33H-0.78Z", "size": 1024, "filled": true, "opacity": 1, "strokeWidth": 0, "xOffset": 22.5},
 "encoding": {"x": {"datum": "2022-07-11", "type": "ordinal", "scale": {"type": "band", "domain": {"unionWith": ["2022-07-11"]}, "paddingInner": 0, "paddingOuter": 0}, "axis": null},
  "y": {"field": "v", "type": "quantitative", "scale": {"domain": [-19.48, 8.45], "nice": false, "zero": false}, "axis": null},
  "fill": {"field": "s", "type": "nominal", "scale": {"domain": ["BBU","SMA200","BBL","BBM","SMA50","Close","LM","LK","LU","LL","RB","RG","RU","RR","RL"], "range": ["#2f7a2f","#2f7a2f","#2f7a2f","#2f7a2f","#1e1e8c","#e0141e","#d03030","#111111","#1d3ed6","#1d3ed6","#1d3ed6","#3ad43a","#1d3ed6","#8a1c35","#1d3ed6"]}, "legend": null}}},
{"data": {"name": "tag3"},
 "transform": [{"filter": "datum.s != 'RB'"}],
 "mark": {"type": "text", "font": "Liberation Sans", "fontSize": 7.5, "fontWeight": "bold", "xOffset": 24, "align": "center", "baseline": "middle"},
 "encoding": {"x": {"datum": "2022-07-11", "type": "ordinal", "scale": {"type": "band", "domain": {"unionWith": ["2022-07-11"]}, "paddingInner": 0, "paddingOuter": 0}, "axis": null},
  "y": {"field": "v", "type": "quantitative", "scale": {"domain": [-19.48, 8.45], "nice": false, "zero": false}, "axis": null},
  "text": {"field": "v", "type": "quantitative", "format": ".2f"},
  "color": {"condition": {"test": "datum.s === 'RG'", "value": "#111111"}, "value": "#ffffff"}}}
],
"resolve": {"axis": {"x": "independent", "y": "independent"}}
}
]
}
]
}
],
"config": {
"font": "Liberation Sans",
"view": {"stroke": "#4a4a4a", "strokeWidth": 1, "fill": "#f3f4f8"},
"concat": {"spacing": 0}
}
}
